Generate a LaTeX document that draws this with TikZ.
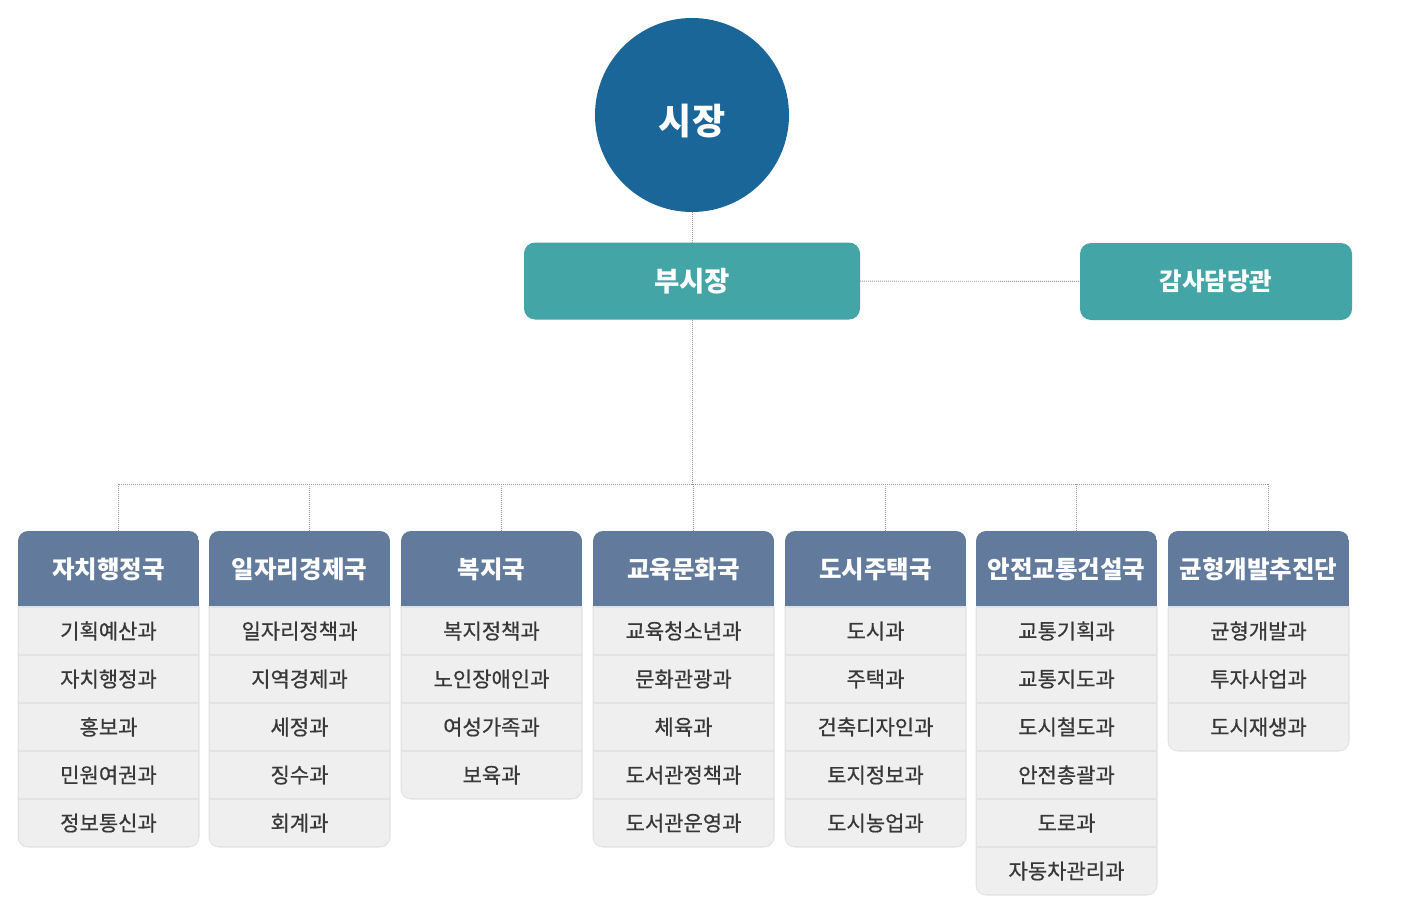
\documentclass[tikz,border=0pt]{standalone}
\usepackage{fontspec}
\setmainfont{Noto Sans CJK KR}
\newfontfamily\fuenteMedia{Noto Sans CJK KR}[FakeBold=0.6]
\usetikzlibrary{positioning, calc}
\definecolor{azulAlcaldia}{HTML}{1B6698}
\definecolor{verdeAzulado}{HTML}{44A5A7}
\definecolor{pizarraDepto}{HTML}{627A9B}
\definecolor{grisFila}{HTML}{EFEFEF}
\definecolor{grisBorde}{HTML}{E3E3E3}
\definecolor{grisTexto}{HTML}{383838}
\definecolor{grisLinea}{HTML}{9A9A9A}
\tikzset{
  cajaBase/.style={
    rectangle, inner sep=0pt, outer sep=0pt, align=center
  },
  circAlcalde/.style={
    circle, fill=azulAlcaldia, text=white, minimum size=194pt,
    inner sep=0pt, font=\fontsize{36}{42}\selectfont\bfseries,
    text height=38pt, text depth=0pt
  },
  cajaVice/.style={cajaBase, fill=verdeAzulado, rounded corners=11pt,
    text=white, minimum height=77pt},
  cajaDepto/.style={cajaBase, fill=pizarraDepto, text=white,
    minimum width=181pt, minimum height=76pt,
    font=\fontsize{24.5}{28}\selectfont\bfseries},
  filaSeccion/.style={cajaBase, fill=grisFila, draw=grisBorde, line width=1.2pt,
    text=grisTexto, minimum width=181pt, minimum height=48pt,
    font=\fuenteMedia\fontsize{21}{25}\selectfont},
  punteado/.style={draw=grisLinea, line width=0.9pt, dash pattern=on 1pt off 1pt},
}

\begin{document}
\begin{tikzpicture}[x=1pt, y=-1pt]
  \useasboundingbox (0,0) rectangle (1424,916);
  % cabeza y vicealcaldia
  \node[circAlcalde] (alcalde) at (692,115) {시장};
  \node[cajaVice, minimum width=336pt, font=\fontsize{27.5}{32}\selectfont\bfseries]
    (vice) at (692,281) {부시장};
  \node[cajaVice, minimum width=272pt, font=\fontsize{24.5}{28}\selectfont\bfseries]
    (auditor) at (1216,281.5) {감사담당관};
  \draw[punteado] (alcalde) -- (vice);
  \draw[punteado] (vice) -- (auditor);
  \coordinate (ramal) at (692,484);
  \draw[punteado] (vice.south) -- (ramal);

  % departamentos
  \foreach \i/\xa/\jefe/\secciones in {
      1/18/자치행정국/{기획예산과,자치행정과,홍보과,민원여권과,정보통신과},
      2/209/일자리경제국/{일자리정책과,지역경제과,세정과,징수과,회계과},
      3/401/복지국/{복지정책과,노인장애인과,여성가족과,보육과},
      4/593/교육문화국/{교육청소년과,문화관광과,체육과,도서관정책과,도서관운영과},
      5/785/도시주택국/{도시과,주택과,건축디자인과,토지정보과,도시농업과},
      6/976/안전교통건설국/{교통기획과,교통지도과,도시철도과,안전총괄과,도로과,자동차관리과},
      7/1168/균형개발추진단/{균형개발과,투자사업과,도시재생과}} {
    \begin{scope}
      \foreach \s [count=\n] in \secciones {\xdef\numFilas{\n}}
      \clip[rounded corners=10pt] (\xa,531) rectangle ++(181,76+48*\numFilas);
      \node[cajaDepto, anchor=north west] (d\i) at (\xa,531) {\jefe};
      \foreach \s [count=\n] in \secciones {
        \pgfmathtruncatemacro\prev{\n-1}
        \ifnum\n=1
          \node[filaSeccion, below=0pt of d\i] (d\i-\n) {\s};
        \else
          \node[filaSeccion, below=0pt of d\i-\prev] (d\i-\n) {\s};
        \fi
      }
    \end{scope}
    \draw[grisBorde, line width=1pt, rounded corners=10pt]
      (\xa,607) -- (\xa,531+76+48*\numFilas) -- ++(181,0) -- (\xa+181,607);
    \coordinate (enlace\i) at ($(d\i.north)+(10,0)$);
    \draw[punteado] (enlace\i) -- (enlace\i |- ramal);
  }
  \draw[punteado] (enlace1 |- ramal) -- (enlace7 |- ramal);
\end{tikzpicture}
\end{document}
